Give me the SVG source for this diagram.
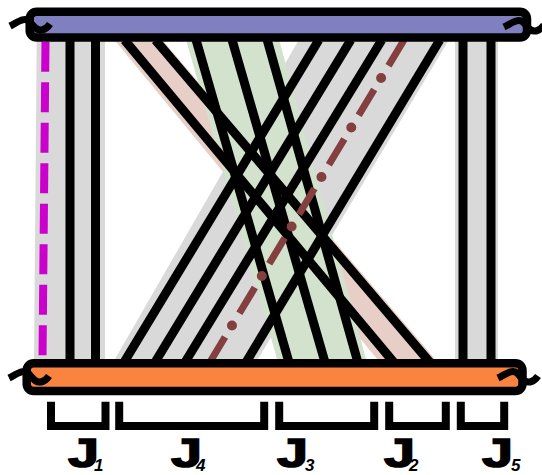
<svg xmlns="http://www.w3.org/2000/svg" width="542" height="475" viewBox="0 0 542 475">
<style>
.band-gray{fill:#d9d9d9}
.band-green{fill:#d3e2cd}
.band-pink{fill:#e7cfc7}
.wire{stroke:#000;stroke-width:9;fill:none}
.bar{stroke:#000;stroke-width:8.5}
.squig{stroke:#000;stroke-width:7;fill:none;stroke-linecap:butt}
.brk{stroke:#000;stroke-width:8;fill:none;stroke-linejoin:miter;stroke-linecap:butt}
.J{font-family:"Liberation Sans",Arial,sans-serif;font-weight:bold;font-size:40px;fill:#000;stroke:#000;stroke-width:1.5}
.sub{font-family:"Liberation Sans",Arial,sans-serif;font-weight:bold;font-style:italic;font-size:17px;fill:#000}
</style>
<defs>
<path id="tilde" d="M-20,2 C-12,-2 -6,-7 -1,-3 C3,1 6,7 12,6 C16,5 18,3 20,0"/>
</defs>
<g id="connectors">
<polygon class="band-gray" points="36.7,40 105,40 105,362 34,362"/>
<polygon class="band-gray" points="455,40 498,40 498,362 455,362"/>
<polygon class="band-gray" points="298.7,40 448.8,40 256.2,362 113.3,362"/>
<polygon class="band-pink" points="114.5,40 162.4,40 437.6,362 379.5,362"/>
<polygon class="band-green" points="186.1,40 279.2,40 366.8,362 277.9,362"/>
<line class="wire" x1="70" y1="40" x2="70" y2="362"/>
<line class="wire" x1="95.5" y1="40" x2="95.5" y2="362"/>
<line class="wire" x1="463" y1="40" x2="463" y2="362"/>
<line class="wire" x1="491" y1="40" x2="491" y2="362"/>
<line class="wire" x1="124.5" y1="40" x2="393.5" y2="362"/>
<line class="wire" x1="155.4" y1="40" x2="429.6" y2="362"/>
<line class="wire" x1="196.1" y1="40" x2="288.9" y2="362"/>
<line class="wire" x1="232.1" y1="40" x2="324.9" y2="362"/>
<line class="wire" x1="267.2" y1="40" x2="357.8" y2="362"/>
<line class="wire" x1="318.8" y1="40" x2="124.2" y2="362"/>
<line class="wire" x1="350.8" y1="40" x2="155.2" y2="362"/>
<line class="wire" x1="381.8" y1="40" x2="185.2" y2="362"/>
<line class="wire" x1="439.8" y1="40" x2="246.2" y2="362"/>
<line x1="45.5" y1="41.7" x2="42.5" y2="359" stroke="#cc00cc" stroke-width="8" stroke-dasharray="30 10.5"/>
<line x1="404" y1="40" x2="210" y2="362" stroke="#843f3f" stroke-width="7" stroke-dasharray="30 27.8"/>
<line x1="404" y1="40" x2="210" y2="362" stroke="#843f3f" stroke-width="10" stroke-linecap="round" stroke-dasharray="0 57.8" stroke-dashoffset="13.45"/>
</g>
<g id="top-bar">
<rect class="bar" x="29.7" y="11.7" width="497.3" height="25.8" rx="7" fill="#8080c0"/>
<use href="#tilde" class="squig" transform="translate(30,24)"/>
<use href="#tilde" class="squig" transform="translate(524,25)"/>
</g>
<g id="bottom-bar">
<rect class="bar" x="26.7" y="363.3" width="495.8" height="27.7" rx="7" fill="#fa8340"/>
<use href="#tilde" class="squig" transform="translate(29,376)"/>
<use href="#tilde" class="squig" transform="translate(518,376)"/>
</g>
<g id="J1">
<path class="brk" d="M51,401.7 V426 H105.5 V401.7"/>
<text class="J" x="68" y="467" textLength="31" lengthAdjust="spacingAndGlyphs">J</text>
<text class="sub" x="94" y="471">1</text>
</g>
<g id="J4">
<path class="brk" d="M119.2,401.7 V426 H264.2 V401.7"/>
<text class="J" x="171" y="467" textLength="31" lengthAdjust="spacingAndGlyphs">J</text>
<text class="sub" x="196" y="471">4</text>
</g>
<g id="J3">
<path class="brk" d="M279.2,401.7 V426 H374.2 V401.7"/>
<text class="J" x="277" y="467" textLength="31" lengthAdjust="spacingAndGlyphs">J</text>
<text class="sub" x="305" y="471">3</text>
</g>
<g id="J2">
<path class="brk" d="M389.2,401.7 V426 H445.8 V401.7"/>
<text class="J" x="384" y="467" textLength="31" lengthAdjust="spacingAndGlyphs">J</text>
<text class="sub" x="409" y="471">2</text>
</g>
<g id="J5">
<path class="brk" d="M460.8,401.7 V426 H504.2 V401.7"/>
<text class="J" x="482" y="467" textLength="31" lengthAdjust="spacingAndGlyphs">J</text>
<text class="sub" x="511" y="471">5</text>
</g>
</svg>
